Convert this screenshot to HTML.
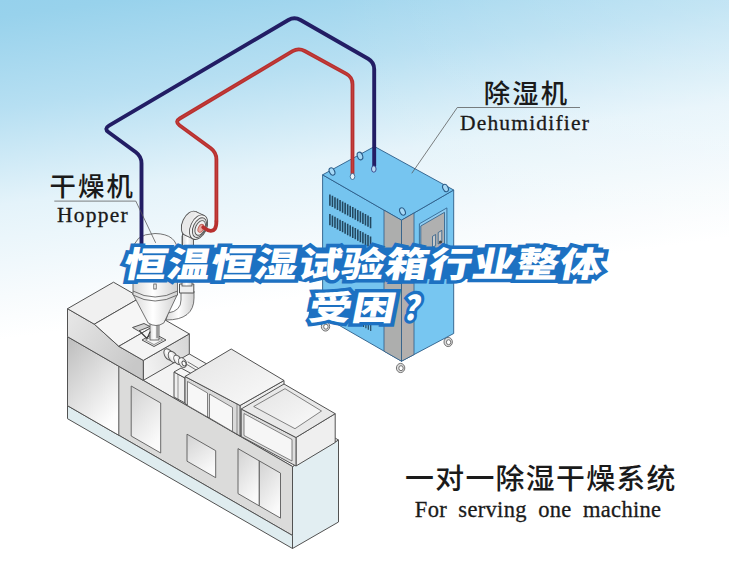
<!DOCTYPE html>
<html lang="zh-CN"><head><meta charset="utf-8"><title>恒温恒湿试验箱行业整体受困？</title>
<style>
html,body{margin:0;padding:0;background:#fff;}
body{width:729px;height:561px;overflow:hidden;position:relative;font-family:"Liberation Sans","Noto Sans CJK SC",sans-serif;}
svg{display:block;position:absolute;left:0;top:0;}
.cn{font-family:"Liberation Sans","Noto Sans CJK SC",sans-serif;fill:#1a1a1a;font-weight:500;}
.en{font-family:"Liberation Serif","Noto Serif CJK SC",serif;fill:#1a1a1a;}
.ttl{font-family:"Liberation Sans","Noto Sans CJK SC",sans-serif;font-weight:900;fill:#fff;stroke:#1d71c2;stroke-width:7.1;paint-order:stroke fill;stroke-linejoin:miter;stroke-miterlimit:2;}
</style></head><body>
<svg width="729" height="561" viewBox="0 0 729 561">
<defs>
<linearGradient id="bg" gradientUnits="userSpaceOnUse" x1="0" y1="0" x2="46.7" y2="333.5">
<stop offset="0" stop-color="#96d1ec"/>
<stop offset="0.05" stop-color="#98d2ec"/>
<stop offset="0.318" stop-color="#b6dff2"/>
<stop offset="0.603" stop-color="#e4f3fa"/>
<stop offset="0.874" stop-color="#f7fbfd"/>
<stop offset="1" stop-color="#ffffff"/>
</linearGradient>
<linearGradient id="bgw" gradientUnits="userSpaceOnUse" x1="330" y1="0" x2="729" y2="0"><stop offset="0" stop-color="#fff" stop-opacity="0"/><stop offset="1" stop-color="#fff" stop-opacity="0.2"/></linearGradient>
<linearGradient id="gpanel" x1="0" y1="0" x2="0.6" y2="1">
<stop offset="0" stop-color="#bcbcbc"/><stop offset="1" stop-color="#fdfdfd"/>
</linearGradient>
<linearGradient id="gfront" x1="0" y1="0" x2="1" y2="0.6"><stop offset="0" stop-color="#e8e8e8"/><stop offset="1" stop-color="#c8c8c8"/></linearGradient>
<linearGradient id="gend" x1="0" y1="0.5" x2="1" y2="0.2"><stop offset="0" stop-color="#f2f2f2"/><stop offset="1" stop-color="#d6d6d6"/></linearGradient>
<linearGradient id="gdoor" x1="0" y1="0" x2="0.5" y2="1">
<stop offset="0" stop-color="#d2d2d2"/><stop offset="1" stop-color="#fafafa"/>
</linearGradient>
<linearGradient id="gtop" x1="0" y1="0" x2="1" y2="1">
<stop offset="0" stop-color="#e4e4e4"/><stop offset="1" stop-color="#fafafa"/>
</linearGradient>
<linearGradient id="gcyl" x1="0" y1="0" x2="1" y2="0">
<stop offset="0" stop-color="#d8d8d8"/><stop offset="0.45" stop-color="#ffffff"/><stop offset="1" stop-color="#d0d0d0"/>
</linearGradient>
</defs>
<rect x="0" y="0" width="729" height="561" fill="url(#bg)"/>
<rect x="0" y="0" width="729" height="561" fill="url(#bgw)"/>

<g id="machine">
<polygon points="292.5,548.5 338.5,522.0 338.5,440.0 292.5,466.5" fill="#e2eef2" stroke="#525252" stroke-width="1.0" stroke-linejoin="round" />
<polygon points="67.5,336.7 113.5,310.2 338.5,440.0 292.5,466.5" fill="#f3f3f3" stroke="#525252" stroke-width="1.0" stroke-linejoin="round" />
<polygon points="67.5,405.7 292.5,535.5 292.5,466.5 67.5,336.7" fill="#dbdbda" stroke="#525252" stroke-width="1.0" stroke-linejoin="round" />
<polygon points="67.5,418.7 292.5,548.5 292.5,535.5 67.5,405.7" fill="#dfecef" stroke="#525252" stroke-width="1.0" stroke-linejoin="round" />
<polygon points="67.5,405.7 118.8,435.3 118.8,366.3 67.5,336.7" fill="url(#gpanel)" stroke="#525252" stroke-width="1.0" stroke-linejoin="round" />
<polygon points="131.2,436.0 160.7,453.0 160.7,403.0 131.2,386.0" fill="url(#gdoor)" stroke="#5a5a5a" stroke-width="0.9" stroke-linejoin="round" />
<polygon points="187.0,461.2 215.7,477.7 215.7,450.7 187.0,434.2" fill="url(#gdoor)" stroke="#5a5a5a" stroke-width="0.9" stroke-linejoin="round" />
<polygon points="238.0,493.6 259.3,505.9 259.3,460.9 238.0,448.6" fill="url(#gdoor)" stroke="#5a5a5a" stroke-width="0.9" stroke-linejoin="round" />
<polygon points="259.3,505.9 280.5,518.1 280.5,473.1 259.3,460.9" fill="url(#gdoor)" stroke="#5a5a5a" stroke-width="0.9" stroke-linejoin="round" />
<polygon points="143.3,360.4 189.3,333.9 189.3,353.9 143.3,380.4" fill="url(#gend)" stroke="#525252" stroke-width="1.0" stroke-linejoin="round" />
<polygon points="67.5,308.7 94.3,324.2 118.8,346.3 143.3,360.4 143.3,380.4 67.5,336.7" fill="url(#gfront)" stroke="#525252" stroke-width="1.0" stroke-linejoin="round" />
<polygon points="67.5,308.7 113.5,282.2 140.3,297.6 94.3,324.2" fill="#f0f0f0" stroke="#525252" stroke-width="1.0" stroke-linejoin="round" />
<polygon points="94.3,324.2 140.3,297.6 164.8,319.8 118.8,346.3" fill="#f6f6f6" stroke="#525252" stroke-width="1.0" stroke-linejoin="round" />
<polygon points="118.8,346.3 164.8,319.8 189.3,333.9 143.3,360.4" fill="#f4f4f4" stroke="#525252" stroke-width="1.0" stroke-linejoin="round" />
<polygon points="174.0,372.0 185.0,378.0 185.0,403.0 174.0,397.0" fill="#efefef" stroke="#525252" stroke-width="1.0" stroke-linejoin="round" />
<polygon points="174.0,372.0 181.0,368.0 192.0,374.0 185.0,378.0" fill="#f6f6f6" stroke="#525252" stroke-width="1.0" stroke-linejoin="round" />
<polyline points="178.0,374.5 178.0,399.0" fill="none" stroke="#525252" stroke-width="0.6" stroke-linejoin="round" stroke-linecap="round" />
<g stroke="#525252" stroke-width="0.9" fill="url(#gcyl)">
<ellipse cx="168.5" cy="354.5" rx="4" ry="6.2" transform="rotate(-30 168.5 354.5)"/>
<ellipse cx="172.8" cy="357" rx="4" ry="6.2" transform="rotate(-30 172.8 357)"/>
<ellipse cx="177.5" cy="359.8" rx="3.2" ry="5" transform="rotate(-30 177.5 359.8)"/>
<ellipse cx="182.5" cy="362.6" rx="3.6" ry="5.2" transform="rotate(-30 182.5 362.6)"/>
<ellipse cx="184" cy="363.5" rx="1.8" ry="2.6" transform="rotate(-30 184 363.5)" fill="#fff"/>
</g>
<polyline points="187.0,364.5 197.0,370.5" fill="none" stroke="#525252" stroke-width="0.8" stroke-linejoin="round" stroke-linecap="round" />
<polyline points="188.0,362.0 198.0,368.0" fill="none" stroke="#525252" stroke-width="0.8" stroke-linejoin="round" stroke-linecap="round" />
<polygon points="240.0,405.5 284.0,380.5 284.0,408.0 240.0,436.0" fill="#ededed" stroke="#525252" stroke-width="1.0" stroke-linejoin="round" />
<polygon points="185.0,376.5 240.0,405.5 240.0,436.0 185.0,403.5" fill="#dadada" stroke="#525252" stroke-width="1.0" stroke-linejoin="round" />
<polygon points="185.0,376.5 231.2,349.0 284.0,380.5 240.0,405.5" fill="url(#gtop)" stroke="#525252" stroke-width="1.0" stroke-linejoin="round" />
<polygon points="187.5,381.5 207.5,393.0 207.5,417.0 187.5,405.5" fill="#f7f7f7" stroke="#525252" stroke-width="0.7" stroke-linejoin="round" />
<polygon points="209.5,394.0 232.5,407.5 232.5,431.5 209.5,418.0" fill="#f7f7f7" stroke="#525252" stroke-width="0.7" stroke-linejoin="round" />
<polyline points="237.0,404.0 237.0,434.5" fill="none" stroke="#525252" stroke-width="0.6" stroke-linejoin="round" stroke-linecap="round" />
<polygon points="296.0,437.5 335.2,413.7 335.2,442.5 296.0,466.0" fill="#efefef" stroke="#525252" stroke-width="1.0" stroke-linejoin="round" />
<polygon points="241.2,409.0 296.0,437.5 296.0,466.0 241.2,436.5" fill="#dedede" stroke="#525252" stroke-width="1.0" stroke-linejoin="round" />
<polygon points="241.2,409.0 284.0,384.0 335.2,413.7 296.0,437.5" fill="#e9e9e9" stroke="#525252" stroke-width="1.0" stroke-linejoin="round" />
<polygon points="253.7,406.5 285.0,388.7 321.5,411.0 295.0,428.7" fill="url(#gtop)" stroke="#525252" stroke-width="0.7" stroke-linejoin="round" />
<polygon points="244.0,413.5 292.0,439.5 292.0,461.0 244.0,435.5" fill="#f6f6f6" stroke="#525252" stroke-width="0.7" stroke-linejoin="round" />
</g>
<g id="hopper" stroke="#525252" stroke-width="0.8">
<polygon points="142.0,340.0 154.0,333.5 166.0,340.0 154.0,346.5" fill="#e6e6e6" stroke="#525252" stroke-width="1.0" stroke-linejoin="round" />
<polygon points="145.5,340.0 154.0,335.4 162.5,340.0 154.0,344.6" fill="#f6f6f6" stroke="#525252" stroke-width="0.6" stroke-linejoin="round" />
<rect x="150" y="322" width="9" height="18" fill="url(#gcyl)"/>
<rect x="156.2" y="324" width="2.2" height="14" fill="#9a9a9a" stroke="none"/>
<polygon points="132.5,327.5 144.0,323.5 150.0,326.5 138.5,331.0" fill="#d4d4d4" stroke="#525252" stroke-width="1.0" stroke-linejoin="round" />
<polyline points="139.5,331.0 147.0,338.5 150.0,332.0" fill="none" stroke="#3a3a3a" stroke-width="1.1" stroke-linejoin="round" stroke-linecap="round" />
<path d="M181,291 V300 Q181,311 168,313 L166,320 Q194,320 194,298 V291 Z" fill="url(#gcyl)"/>
<polygon points="179.5,284.0 193.8,284.0 193.8,293.0 179.5,293.0" fill="#efefef" stroke="#525252" stroke-width="1.0" stroke-linejoin="round" />
<rect x="182" y="236" width="10" height="50" fill="url(#gcyl)"/>
<path d="M132.8,294 L148.2,323 Q156,328 163.8,323 L177.6,294 Z" fill="url(#gcyl)"/>
<path d="M133,250 V295 Q155,307 177.5,295 V250 Z" fill="url(#gcyl)"/>
<path d="M133,291 Q155,303 177.5,291" fill="none"/>
<path d="M133,252 Q133,234 155,233.5 Q177.5,234 177.5,252 Z" fill="#f4f6f7"/>
<rect x="153.8" y="284" width="2.4" height="5" fill="#fff"/>
</g>
<g id="blower" stroke="#525252" stroke-width="0.9">
<rect x="182.5" y="234" width="11" height="12" fill="url(#gcyl)"/>
<g transform="rotate(25 194.5 225.3)">
<ellipse cx="190" cy="225.3" rx="8" ry="13" fill="#e9e9e9"/>
<path d="M190,212.3 L199,212.3 L199,238.3 L190,238.3" fill="#efefef"/>
<ellipse cx="199" cy="225.3" rx="8" ry="13" fill="#f4f4f4"/>
<ellipse cx="200" cy="225.3" rx="6.2" ry="10.4" fill="#e4e4e4"/>
<ellipse cx="200.8" cy="225.3" rx="4.6" ry="7.8" fill="#f2f2f2"/>
<ellipse cx="201.6" cy="225.3" rx="2.6" ry="4.2" fill="#e7a9a2" stroke="#c0635b"/>
</g>
</g>
<g id="dehumidifier">
<g stroke="#555" stroke-width="0.8"><ellipse cx="325.5" cy="326.5" rx="4.2" ry="4.6" fill="#ddd"/><ellipse cx="325.9" cy="326.7" rx="2.2" ry="2.5" fill="#fff"/></g>
<g stroke="#555" stroke-width="0.8"><ellipse cx="400.6" cy="368.0" rx="4.2" ry="4.6" fill="#ddd"/><ellipse cx="401.0" cy="368.2" rx="2.2" ry="2.5" fill="#fff"/></g>
<g stroke="#555" stroke-width="0.8"><ellipse cx="448.2" cy="342.0" rx="4.2" ry="4.6" fill="#ddd"/><ellipse cx="448.6" cy="342.2" rx="2.2" ry="2.5" fill="#fff"/></g>
<polygon points="322.6,174.8 401.5,220.2 401.5,361.2 322.6,315.8" fill="#75c4ef" stroke="#2b5c88" stroke-width="0.9" stroke-linejoin="round" />
<polygon points="401.5,220.2 453.7,190.0 453.7,333.5 401.5,361.2" fill="#77c6f1" stroke="#2b5c88" stroke-width="0.9" stroke-linejoin="round" />
<polygon points="322.6,174.8 374.5,146.5 453.7,190.0 401.5,220.2" fill="#76c5f0" stroke="#2b5c88" stroke-width="0.9" stroke-linejoin="round" />
<polygon points="384.0,210.2 401.5,220.2 401.5,361.2 384.0,351.2" fill="#adaead" stroke="#2b5c88" stroke-width="0.8" stroke-linejoin="round" />
<polygon points="401.5,220.2 414.0,213.0 414.0,354.6 401.5,361.2" fill="#b3afad" stroke="#2b5c88" stroke-width="0.8" stroke-linejoin="round" />
<polygon points="419.4,223.8 446.9,207.9 446.9,264.9 419.4,280.8" fill="#8fcdf2" stroke="#2b5c88" stroke-width="0.8" stroke-linejoin="round" />
<polygon points="420.8,226.0 444.5,212.3 444.5,264.3 420.8,278.0" fill="#b0b0b0" stroke="#2b5c88" stroke-width="0.8" stroke-linejoin="round" />
<polygon points="432.5,236.3 435.6,234.5 435.6,245.5 432.5,247.3" fill="#c9c9c9" stroke="#2b5c88" stroke-width="0.8" stroke-linejoin="round" />
<polygon points="438.2,232.5 441.8,230.4 441.8,241.9 438.2,244.0" fill="#c9c9c9" stroke="#2b5c88" stroke-width="0.8" stroke-linejoin="round" />
<circle cx="440.5" cy="242" r="1.6" fill="#444" stroke="none"/>
<path d="M329.90,194.40 v11.3 M332.44,195.81 v11.3 M334.98,197.21 v11.3 M337.52,198.62 v11.3 M340.06,200.03 v11.3 M342.60,201.44 v11.3 M345.14,202.84 v11.3 M347.68,204.25 v11.3 M350.22,205.66 v11.3 M352.76,207.06 v11.3 M355.30,208.47 v11.3 M357.84,209.88 v11.3 M360.38,211.29 v11.3 M362.92,212.69 v11.3 M365.46,214.10 v11.3 M368.00,215.51 v11.3 M370.54,216.91 v11.3 M329.90,214.00 v11.3 M332.44,215.41 v11.3 M334.98,216.81 v11.3 M337.52,218.22 v11.3 M340.06,219.63 v11.3 M342.60,221.04 v11.3 M345.14,222.44 v11.3 M347.68,223.85 v11.3 M350.22,225.26 v11.3 M352.76,226.66 v11.3 M355.30,228.07 v11.3 M357.84,229.48 v11.3 M360.38,230.89 v11.3 M362.92,232.29 v11.3 M365.46,233.70 v11.3 M368.00,235.11 v11.3 M370.54,236.51 v11.3" stroke="#23475f" stroke-width="1.6" fill="none"/>
<path d="M363.50,321.00 v6 M365.90,322.33 v6 M368.30,323.66 v6 M370.70,324.99 v6" stroke="#23475f" stroke-width="1.2" fill="none"/>
<ellipse cx="332.0" cy="171.5" rx="2.6" ry="3.9" transform="rotate(-25 332.0 171.5)" fill="#a5d8f5" stroke="#2b5c88" stroke-width="1.1"/>
<ellipse cx="360.0" cy="156.0" rx="2.6" ry="3.9" transform="rotate(-20 360.0 156.0)" fill="#a5d8f5" stroke="#2b5c88" stroke-width="1.1"/>
<ellipse cx="402.5" cy="211.5" rx="2.6" ry="3.9" transform="rotate(-25 402.5 211.5)" fill="#a5d8f5" stroke="#2b5c88" stroke-width="1.1"/>
<ellipse cx="445.5" cy="188.0" rx="2.6" ry="3.9" transform="rotate(-25 445.5 188.0)" fill="#a5d8f5" stroke="#2b5c88" stroke-width="1.1"/>
</g>
<g fill="none" stroke-linecap="round" stroke-linejoin="round">
<path d="M141.5,244.0 L141.5,163.4 Q141.5,156.4 135.9,152.2 L108.6,132.2 Q103.8,128.6 109.0,125.6 L288.4,20.0 Q294.4,16.5 300.5,20.0 L368.1,58.8 Q374.2,62.3 374.2,69.3 L374.2,166.0" stroke="#221d64" stroke-width="3.9"/>
<path d="M216.4,221.0 L216.4,159.5 Q216.4,152.5 210.8,148.3 L179.4,125.2 Q174.6,121.6 179.8,118.5 L292.6,51.2 Q298.6,47.6 304.7,51.0 L346.4,73.8 Q352.5,77.2 352.5,84.2 L352.5,174.0" stroke="#b8302f" stroke-width="3.8"/>
<path d="M216.4,221.5 C216.4,228.5 214.2,231 210.6,230.8 C207.6,230.6 205.6,229 203.2,227.3" stroke="#b8302f" stroke-width="3.8"/>
<path d="M216.4,221.0 L216.4,159.5 Q216.4,152.5 210.8,148.3 L179.4,125.2 Q174.6,121.6 179.8,118.5 L292.6,51.2 Q298.6,47.6 304.7,51.0 L346.4,73.8 Q352.5,77.2 352.5,84.2 L352.5,174.0" stroke="#d0504a" stroke-width="1" opacity="0.5"/>
</g>
<ellipse cx="352.5" cy="176.5" rx="2.3" ry="3" fill="#e9f3fa" stroke="#2b5c88" stroke-width="0.8"/>
<ellipse cx="373.8" cy="169" rx="2.3" ry="3.2" fill="#b9d9f2" stroke="#25307a" stroke-width="0.8"/>
<g>
<polyline points="54.7,201.1 135.8,201.1 155.5,242.5" fill="none" stroke="#555" stroke-width="0.75" stroke-linejoin="round" stroke-linecap="round" />
<polyline points="579.6,107.5 457.3,107.5 412.0,173.0" fill="none" stroke="#555" stroke-width="0.75" stroke-linejoin="round" stroke-linecap="round" />
<text class="cn" x="49.6" y="195.5" font-size="26.4" letter-spacing="2.1">干燥机</text>
<text class="en" x="57" y="221.8" font-size="21.5" letter-spacing="1.25" stroke="#1a1a1a" stroke-width="0.3">Hopper</text>
<text class="cn" x="483.8" y="102.5" font-size="26.4" letter-spacing="2.1">除湿机</text>
<text class="en" x="460" y="129.6" font-size="21.5" letter-spacing="1.18" stroke="#1a1a1a" stroke-width="0.3">Dehumidifier</text>
<text class="cn" x="405" y="489.2" font-size="28.9" letter-spacing="1.3" font-weight="400">一对一除湿干燥系统</text>
<text class="en" x="414.8" y="517.4" font-size="22.5" letter-spacing="0.32" word-spacing="5.4" stroke="#1a1a1a" stroke-width="0.3">For serving one machine</text>
</g>
<polygon points="133,247.5 603.5,247.5 597.5,279 125,279" fill="#1d71c2"/>
<polygon points="313,291 397.5,291 392,320.5 307.5,320.5" fill="#1d71c2"/>
<g transform="translate(361.6 276.9) skewX(-11) scale(1.228 1)">
<text class="ttl" x="0" y="0" font-size="35" text-anchor="middle" letter-spacing="0.5">恒温恒湿试验箱行业整体</text>
</g>
<g transform="translate(350.5 319.6) skewX(-11) scale(1.228 0.97)">
<text class="ttl" x="0" y="0" font-size="35" text-anchor="middle" letter-spacing="0.5">受困</text>
</g>
<g transform="translate(402.5 319.6) skewX(-11) scale(0.88 0.97)">
<text class="ttl" x="0" y="0" font-size="35" text-anchor="start">？</text>
</g>
</svg></body></html>
